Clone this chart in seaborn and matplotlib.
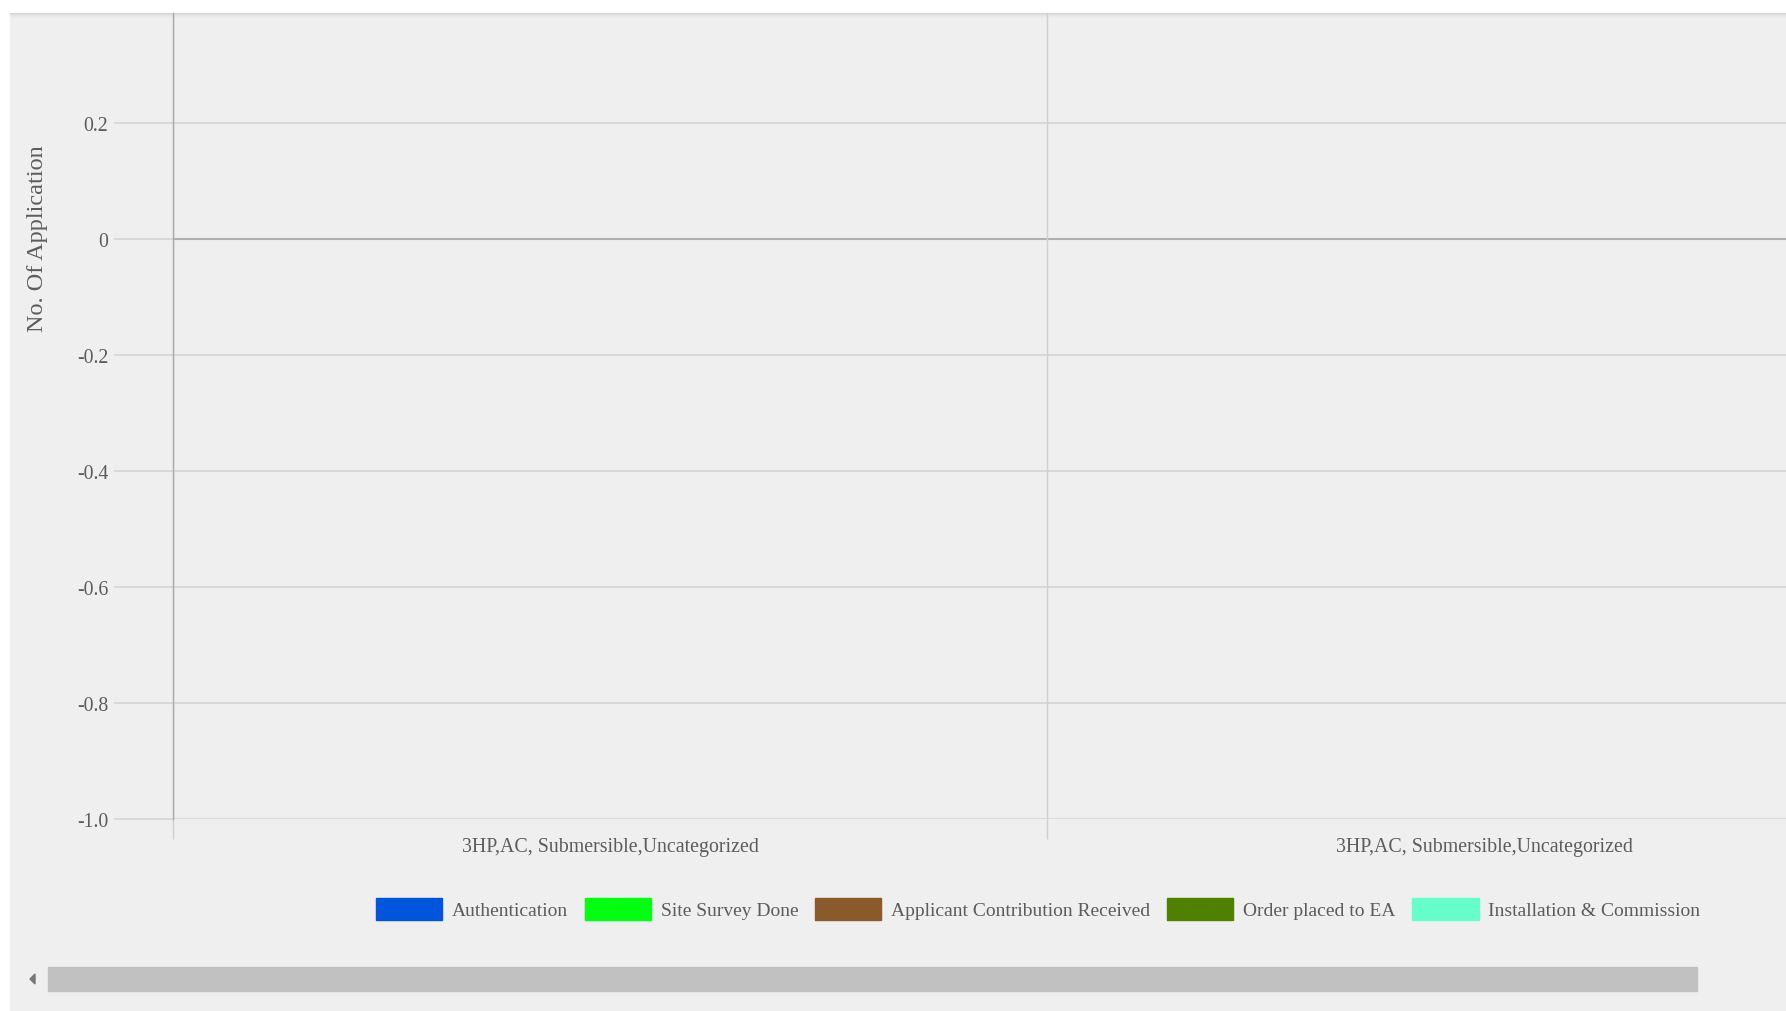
import matplotlib
matplotlib.use("Agg")
import matplotlib.pyplot as plt
from matplotlib.patches import Patch, Rectangle, Polygon
import seaborn as sns
import pandas as pd

# chart data: every stage count is zero for both categories
categories = ["3HP,AC, Submersible,Uncategorized", "3HP,AC, Submersible,Uncategorized "]
stages = ["Authentication", "Site Survey Done", "Applicant Contribution Received",
          "Order placed to EA", "Installation & Commission"]
counts = [[0, 0, 0, 0, 0],
          [0, 0, 0, 0, 0]]
stage_colors = ["#0055dd", "#00ff11", "#8b5a2b", "#4f8000", "#66ffcc"]
y_ticks = [-1.0, -0.8, -0.6, -0.4, -0.2, 0, 0.2]
y_tick_labels = ["-1.0", "-0.8", "-0.6", "-0.4", "-0.2", "0", "0.2"]

rows = []
for cat, vals in zip(categories, counts):
    for stage, v in zip(stages, vals):
        rows.append({"Category": cat, "Stage": stage, "Count": v})
df = pd.DataFrame(rows)

W, H = 1786, 1012
BG = "#efefef"
TXT = "#5c5c5c"
GRID = "#d8d8d8"
FONT = ["Liberation Serif", "DejaVu Serif"]

sns.set_theme(style="white")
plt.rcParams["font.family"] = FONT

fig = plt.figure(figsize=(W / 100, H / 100), dpi=100, facecolor="white")


def px(x0, y0):
    return x0 / W, 1 - y0 / H


# gray page area with a soft shadow under the top white strip
fig.patches.append(Rectangle(px(10, H), 1 - 10 / W, (H - 14) / H,
                             transform=fig.transFigure, color=BG, zorder=-10))
for i, a in enumerate([0.10, 0.07, 0.045, 0.025, 0.012]):
    fig.patches.append(Rectangle(px(10, 14 + i + 1), 1, 1 / H,
                                 transform=fig.transFigure, color="black",
                                 alpha=a, zorder=-9, lw=0))

ax = fig.add_axes([173 / W, (H - 820) / H, (1921 - 173) / W, (820 - 14) / H])
ax.set_facecolor("none")

sns.barplot(data=df, x="Category", y="Count", hue="Stage",
            palette=stage_colors, ax=ax, legend=False, linewidth=0)

ax.set_xlim(-0.5, 1.5)
ax.set_ylim(-1.0, 0.39)
ax.set_xlabel("")
ax.set_ylabel("")

ax.set_yticks(y_ticks)
ax.set_yticklabels(y_tick_labels)
ax.tick_params(axis="y", left=True, length=42.5, width=1.4, color=GRID, pad=4,
               labelsize=14.3, labelcolor=TXT)
ax.set_xticks([0, 1])
ax.set_xticklabels([c.strip() for c in categories])
ax.tick_params(axis="x", which="major", bottom=False, length=0, pad=13,
               labelsize=14.3, labelcolor=TXT)
ax.set_xticks([-0.5, 0.5, 1.5], minor=True)
ax.tick_params(axis="x", which="minor", bottom=True, length=14.5, width=1.0,
               color="#cfcfcf")

for yv in y_ticks:
    ax.axhline(yv, color="#b0b0b0" if yv == 0 else GRID,
               lw=1.5, zorder=0)
ax.grid(axis="x", which="minor", color="#d0d0d0", lw=1.0)
ax.grid(axis="x", which="major", visible=False)
ax.set_axisbelow(True)

for s in ["top", "right", "bottom"]:
    ax.spines[s].set_visible(False)
ax.spines["left"].set_color("#a8a8a8")
ax.spines["left"].set_linewidth(1.0)

for t in ax.get_xticklabels() + ax.get_yticklabels():
    t.set_fontfamily(FONT)

fig.text(38 / W, 1 - 239 / H, "No. Of Application", rotation=90,
         ha="center", va="center", fontsize=17.5, color=TXT, family=FONT)

handles = [Patch(facecolor=c, edgecolor=c, label=s)
           for s, c in zip(stages, stage_colors)]
leg = fig.legend(handles=handles, loc="center", ncol=5, frameon=False,
                 bbox_to_anchor=(1038 / W, 1 - 910 / H),
                 bbox_transform=fig.transFigure, borderpad=0,
                 handlelength=3.42, handleheight=1.35,
                 handletextpad=0.5, columnspacing=0.85,
                 prop={"family": FONT, "size": 14.0})
for t in leg.get_texts():
    t.set_color(TXT)

# horizontal scrollbar under the chart
fig.patches.append(Rectangle(px(48, 992), (1697 - 48) / W, 24 / H,
                             transform=fig.transFigure, color="#c1c1c1"))
fig.patches.append(Polygon([px(30, 980), px(35, 975), px(35, 985)],
                           closed=True, transform=fig.transFigure,
                           color="#777777"))

fig.savefig("out.png", dpi=100, facecolor="white")
